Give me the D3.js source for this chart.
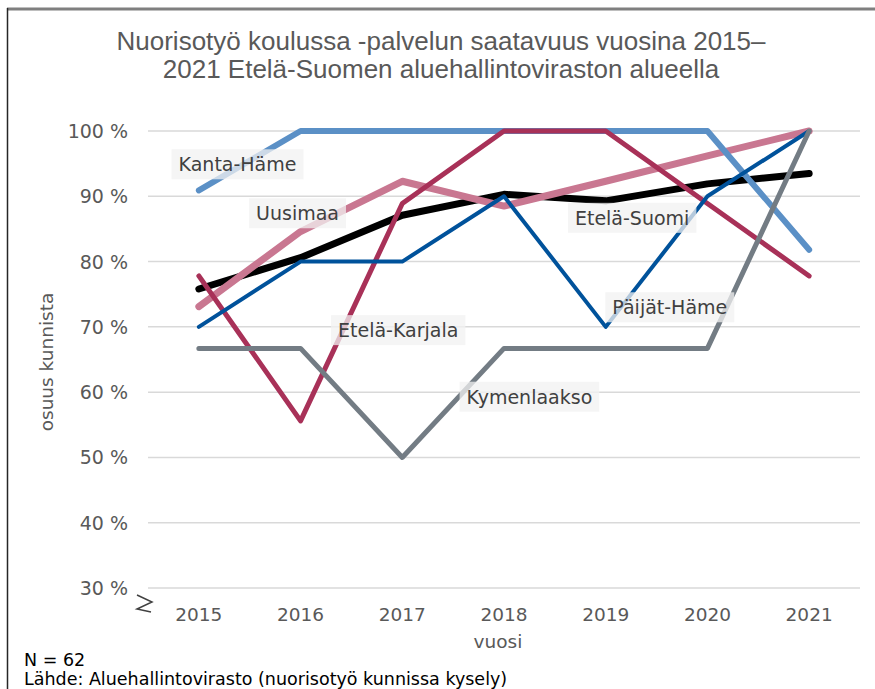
<!DOCTYPE html>
<html>
<head>
<meta charset="utf-8">
<script src="https://cdn.jsdelivr.net/npm/d3@7"></script>
<style>
  body { margin: 0; background: #fff; }
  svg { display: block; }
</style>
</head>
<body>
<script>
var years = ["2015", "2016", "2017", "2018", "2019", "2020", "2021"];
var yTicks = [30, 40, 50, 60, 70, 80, 90, 100];

var etelaSuomi = [75.8, 80.6, 87.1, 90.3, 89.3, 91.9, 93.5];
var uusimaa = [73.1, 84.6, 92.3, 88.5, 92.3, 96.2, 100];
var kantaHame = [90.9, 100, 100, 100, 100, 100, 81.8];
var etelaKarjala = [77.8, 55.6, 88.9, 100, 100, 88.9, 77.8];
var paijatHame = [70, 80, 80, 90, 70, 90, 100];
var kymenlaakso = [66.7, 66.7, 50, 66.7, 66.7, 66.7, 100];

var series = [
  { name: "Etelä-Suomi", values: etelaSuomi, color: "#000000", w: 7 },
  { name: "Uusimaa", values: uusimaa, color: "#c97791", w: 7 },
  { name: "Kanta-Häme", values: kantaHame, color: "#5b90c6", w: 6 },
  { name: "Etelä-Karjala", values: etelaKarjala, color: "#a83158", w: 5 },
  { name: "Päijät-Häme", values: paijatHame, color: "#00529b", w: 4 },
  { name: "Kymenlaakso", values: kymenlaakso, color: "#737c84", w: 5 }
];

// where each data label box sits (year, value)
var labels = [
  { name: "Kanta-Häme", x: 2015.38, y: 94.9 },
  { name: "Uusimaa", x: 2015.97, y: 87.4 },
  { name: "Etelä-Suomi", x: 2019.26, y: 86.7 },
  { name: "Päijät-Häme", x: 2019.63, y: 73.0 },
  { name: "Etelä-Karjala", x: 2016.96, y: 69.5 },
  { name: "Kymenlaakso", x: 2018.25, y: 59.3 }
];

var width = 875, height = 689;
var svg = d3.select("body").append("svg")
  .attr("width", width).attr("height", height);

// frame
svg.append("line").attr("x1", 7).attr("x2", width).attr("y1", 9).attr("y2", 9)
  .attr("stroke", "#7f7f7f").attr("stroke-width", 3);
svg.append("line").attr("x1", 7.5).attr("x2", 7.5).attr("y1", 8).attr("y2", height)
  .attr("stroke", "#262626").attr("stroke-width", 1.5);

var x = d3.scalePoint().domain(years).range([148, 860]).padding(0.5);
var y = d3.scaleLinear().domain([30, 100]).range([588, 131]);
var xNum = d3.scaleLinear().domain([2015, 2021]).range([x("2015"), x("2021")]);

// title
svg.append("text")
  .attr("text-anchor", "middle")
  .attr("fill", "#595959")
  .style("font-family", "'Liberation Sans Narrow', 'Arial Narrow', sans-serif")
  .style("font-size", "26px")
  .selectAll("tspan")
  .data(["Nuorisotyö koulussa -palvelun saatavuus vuosina 2015–", "2021 Etelä-Suomen aluehallintoviraston alueella"])
  .join("tspan")
  .attr("x", 441)
  .attr("y", function(d, i) { return 50 + i * 28; })
  .text(function(d) { return d; });

// gridlines
svg.append("g").selectAll("line")
  .data(yTicks)
  .join("line")
  .attr("x1", 148).attr("x2", 860)
  .attr("y1", function(d) { return y(d); })
  .attr("y2", function(d) { return y(d); })
  .attr("stroke", "#d9d9d9").attr("stroke-width", 1.5);

var font = "'DejaVu Sans', Verdana, sans-serif";

// y tick labels
svg.append("g").selectAll("text")
  .data(yTicks)
  .join("text")
  .attr("x", 128)
  .attr("y", function(d) { return y(d) + 7; })
  .attr("text-anchor", "end")
  .attr("fill", "#595959")
  .style("font-family", font).style("font-size", "19px")
  .text(function(d) { return d + " %"; });

// x tick labels
svg.append("g").selectAll("text")
  .data(years)
  .join("text")
  .attr("x", function(d) { return x(d); })
  .attr("y", 621)
  .attr("text-anchor", "middle")
  .attr("fill", "#595959")
  .style("font-family", font).style("font-size", "18.5px")
  .text(function(d) { return d; });

// axis break mark
svg.append("path")
  .attr("d", "M137,595 L152,602 L137,609 L151,612")
  .attr("stroke", "#404040").attr("stroke-width", 1.5).attr("fill", "none");

// axis titles
svg.append("text")
  .attr("x", 498).attr("y", 648)
  .attr("text-anchor", "middle").attr("fill", "#595959")
  .style("font-family", font).style("font-size", "18.5px")
  .text("vuosi");
svg.append("text")
  .attr("transform", "translate(53,362) rotate(-90)")
  .attr("text-anchor", "middle").attr("fill", "#595959")
  .style("font-family", font).style("font-size", "18.5px")
  .text("osuus kunnista");

// lines
var line = d3.line()
  .x(function(d, i) { return x(years[i]); })
  .y(function(d) { return y(d); });

svg.append("g").selectAll("path")
  .data(series)
  .join("path")
  .attr("d", function(d) { return line(d.values); })
  .attr("fill", "none")
  .attr("stroke", function(d) { return d.color; })
  .attr("stroke-width", function(d) { return d.w; })
  .attr("stroke-linecap", "round")
  .attr("stroke-linejoin", "round");

// data labels
var lg = svg.append("g").selectAll("g")
  .data(labels)
  .join("g")
  .attr("transform", function(d) { return "translate(" + xNum(d.x) + "," + y(d.y) + ")"; });
lg.append("text")
  .attr("text-anchor", "middle")
  .attr("dy", 7)
  .attr("fill", "#404040")
  .style("font-family", font).style("font-size", "19px")
  .text(function(d) { return d.name; })
  .each(function() {
    var b = this.getBBox();
    d3.select(this.parentNode).insert("rect", "text")
      .attr("x", b.x - 7).attr("y", -15)
      .attr("width", b.width + 14).attr("height", 30)
      .attr("fill", "#f2f2f2").attr("fill-opacity", 0.75);
  });

// footnotes
svg.append("text")
  .attr("x", 24).attr("y", 666)
  .attr("fill", "#000")
  .style("font-family", font).style("font-size", "17.5px")
  .text("N = 62");
svg.append("text")
  .attr("x", 24).attr("y", 685)
  .attr("fill", "#000")
  .style("font-family", font).style("font-size", "17.5px")
  .text("Lähde: Aluehallintovirasto (nuorisotyö kunnissa kysely)");
</script>
</body>
</html>
